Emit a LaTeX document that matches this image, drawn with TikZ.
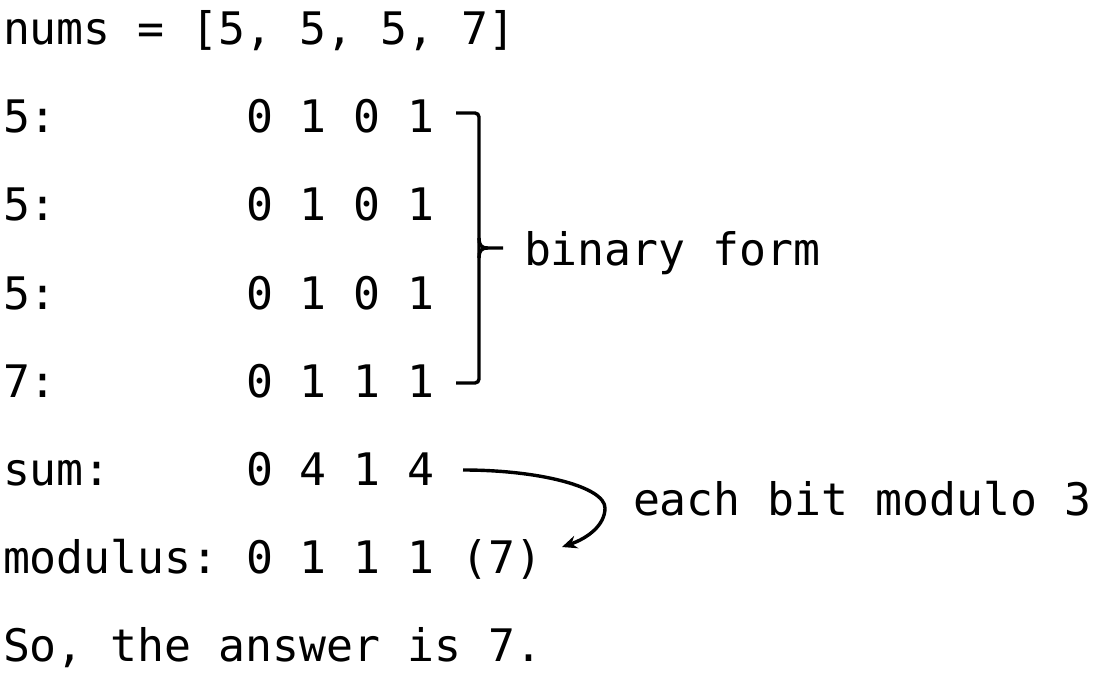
\documentclass[tikz,border=0pt]{standalone}
\usepackage{fontspec}
\setmonofont{DejaVu Sans Mono}
\usetikzlibrary{arrows.meta}
\begin{document}
\begin{tikzpicture}[x=1pt,y=-1pt,
  txt/.style={anchor=base west,inner sep=0pt,outer sep=0pt,font=\ttfamily\fontsize{44.8}{50}\selectfont},
  brk/.style={line width=3.4pt,rounded corners=4pt},
  tick/.style={line width=3.4pt},
  conn/.style={line width=3.4pt,-{Stealth[length=15pt,width=13pt]}}]
\useasboundingbox[fill=white] (0,0) rectangle (1093,682);
\node[txt] (nums) at (3,45) {nums = [5, 5, 5, 7]};
\node[txt] (l1) at (3,133) {5:};
\node[txt] (v1) at (246,133) {0 1 0 1};
\node[txt] (l2) at (3,221) {5:};
\node[txt] (v2) at (246,221) {0 1 0 1};
\node[txt] (l3) at (3,309) {5:};
\node[txt] (v3) at (246,309) {0 1 0 1};
\node[txt] (l4) at (3,397) {7:};
\node[txt] (v4) at (246,397) {0 1 1 1};
\node[txt] (ls) at (3,485) {sum:};
\node[txt] (vs) at (246,485) {0 4 1 4};
\node[txt] (lm) at (3,573) {modulus:};
\node[txt] (vm) at (246,573) {0 1 1 1 (7)};
\node[txt] (so) at (3,661) {So, the answer is 7.};
\node[txt] (bf) at (524,265) {binary form};
\node[txt] (eb) at (633,515) {each bit modulo 3};
% bracket
\draw[brk] (456,113) -- (479,113) -- (479,383) -- (456,383);
\draw[tick] (479,238) .. controls (479,245) and (481,248) .. (488,248) -- (503,248);
\draw[tick] (479,258) .. controls (479,251) and (481,248) .. (488,248);
% arrow
\coordinate (as) at (463,470);
\coordinate (ae) at (562,547);
\draw[conn] (as) .. controls (540,470) and (605,487) .. (605,508) .. controls (605,525) and (588,538) .. (ae);
\end{tikzpicture}
\end{document}
